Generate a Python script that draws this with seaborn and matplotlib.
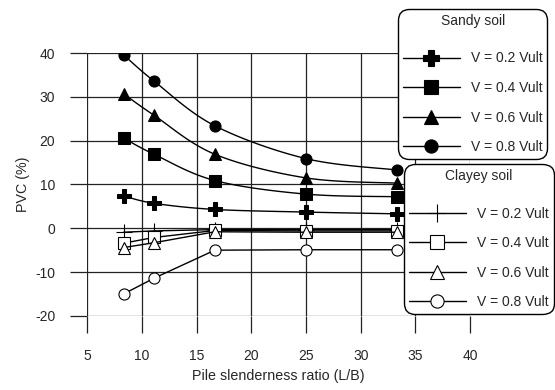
import numpy as np
import pandas as pd
import seaborn as sns
import matplotlib
matplotlib.use('Agg')
from matplotlib import pyplot as plt
from matplotlib.lines import Line2D

# pile slenderness ratios (L/B)
ratio = [8.33, 11.11, 16.67, 25.0, 33.33]
load_labels = ['V = 0.2 Vult', 'V = 0.4 Vult', 'V = 0.6 Vult', 'V = 0.8 Vult']

# PVC (%)
sandy_02 = [7.4, 5.7, 4.3, 3.7, 3.3]
sandy_04 = [20.6, 16.9, 10.9, 7.8, 7.2]
sandy_06 = [30.7, 25.8, 16.9, 11.5, 10.3]
sandy_08 = [39.6, 33.6, 23.4, 15.9, 13.3]

clayey_02 = [-0.9, -0.6, -0.3, -0.3, -0.3]
clayey_04 = [-3.4, -2.1, -0.5, -0.6, -0.6]
clayey_06 = [-4.4, -3.3, -0.8, -0.9, -0.9]
clayey_08 = [-15.0, -11.4, -5.0, -4.9, -4.9]

sandy = [sandy_02, sandy_04, sandy_06, sandy_08]
clayey = [clayey_02, clayey_04, clayey_06, clayey_08]

sandy_style = [dict(marker='P', ms=9.5), dict(marker='s', ms=8.5),
               dict(marker='^', ms=8), dict(marker='o', ms=8)]
clayey_style = [dict(marker='+', ms=11, mew=0.8), dict(marker='s', ms=8.5),
                dict(marker='^', ms=8), dict(marker='o', ms=8)]


def smooth_curve(x, y, n=30):
    # Excel-like smoothed line (Catmull-Rom style bezier between points)
    p = np.column_stack([x, y]).astype(float)
    pts = np.vstack([p[0], p, p[-1]])
    out = []
    t = np.linspace(0, 1, n)[:, None]
    for i in range(1, len(pts) - 2):
        p0, p1, p2, p3 = pts[i - 1], pts[i], pts[i + 1], pts[i + 2]
        c1 = p1 + (p2 - p0) / 6.0
        c2 = p2 - (p3 - p1) / 6.0
        seg = ((1 - t) ** 3) * p1 + 3 * ((1 - t) ** 2) * t * c1 + 3 * (1 - t) * t ** 2 * c2 + t ** 3 * p2
        out.append(seg if i == 1 else seg[1:])
    out = np.vstack(out)
    return out[:, 0], out[:, 1]


sns.set_style('white')
plt.rcParams['font.family'] = ['Liberation Sans', 'DejaVu Sans']
plt.rcParams['font.size'] = 10
plt.rcParams['axes.unicode_minus'] = False

fig = plt.figure(figsize=(5.55, 3.9), dpi=100)
ax = fig.add_axes([0.157, 0.190, 0.690, 0.674])

# sandy soil: smoothed curves with filled markers
for vals, st in zip(sandy, sandy_style):
    sx, sy = smooth_curve(ratio, vals)
    sns.lineplot(x=sx, y=sy, ax=ax, color='black', lw=1.0, sort=False,
                 estimator=None, legend=False, zorder=3)
    sns.lineplot(x=ratio, y=vals, ax=ax, color='black', lw=0, marker=st['marker'],
                 markersize=st['ms'], markeredgecolor='black', markerfacecolor='black',
                 legend=False, zorder=4)

# clayey soil: straight segments with open markers
for vals, st in zip(clayey, clayey_style):
    sns.lineplot(x=ratio, y=vals, ax=ax, color='black', lw=1.0, marker=st['marker'],
                 markersize=st['ms'], markeredgewidth=st.get('mew', 0.8),
                 markeredgecolor='black', markerfacecolor='white',
                 legend=False, zorder=3)

ax.set_xlim(5, 40)
ax.set_ylim(-20, 40)
ax.set_xticks(range(5, 41, 5))
ax.set_yticks(range(-20, 41, 10))
ax.grid(True, color='#222222', lw=0.9)
for s in ax.spines.values():
    s.set_visible(False)
ax.tick_params(direction='out', length=12, width=0.9, color='#222222',
               labelsize=10, pad=11, bottom=True, left=True)
ax.tick_params(axis='x', pad=12)
ax.set_xlabel('Pile slenderness ratio (L/B)', fontsize=10.3, labelpad=4)
ax.set_ylabel('PVC (%)', fontsize=10.3, labelpad=3.5)


def make_handles(styles, face):
    hs = []
    for st in styles:
        hs.append(Line2D([], [], color='black', lw=1.0, marker=st['marker'],
                         markersize=st['ms'] + 1.5, markeredgewidth=st.get('mew', 0.8),
                         markeredgecolor='black', markerfacecolor=face))
    return hs


leg_kw = dict(loc='upper left', bbox_transform=fig.transFigure, borderaxespad=0,
              fancybox=True, framealpha=1, edgecolor='black', handlelength=4.1,
              handletextpad=0.8, labelspacing=1.12, borderpad=0.35, fontsize=10,
              title_fontsize=10)
leg1 = ax.legend(make_handles(sandy_style, 'black'), load_labels, title='Sandy soil',
                 bbox_to_anchor=(0.717, 0.977), **leg_kw)
ax.add_artist(leg1)
leg2 = ax.legend(make_handles(clayey_style, 'white'), load_labels, title='Clayey soil',
                 bbox_to_anchor=(0.728, 0.579), **leg_kw)
for lg in (leg1, leg2):
    lg.set_zorder(10)
    lg.get_frame().set_linewidth(1.0)
    lg.get_frame().set_boxstyle('round', pad=0, rounding_size=0.8)
    # wider gap between legend title and entries
    lg._legend_box.sep = 17

fig.savefig('out.png', dpi=100)
